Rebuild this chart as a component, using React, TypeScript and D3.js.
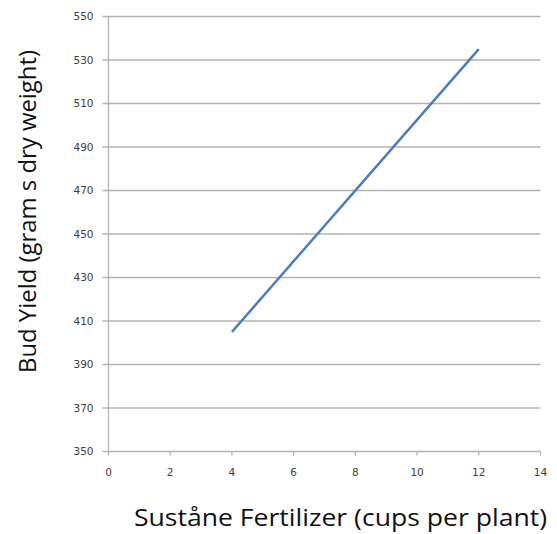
import React, { useEffect, useRef } from "react";
import * as d3 from "d3";

const fertilizerCups = [4, 12];
const budYield = [405, 535];
const xTicks = [0, 2, 4, 6, 8, 10, 12, 14];
const yTicks = [350, 370, 390, 410, 430, 450, 470, 490, 510, 530, 550];
const xTitle = "Suståne Fertilizer (cups per plant)";
const yTitle = "Bud Yield (gram s dry weight)";

export default function App() {
  const ref = useRef<SVGSVGElement>(null);

  useEffect(() => {
    const svg = d3.select(ref.current);
    svg.selectAll("*").remove();

    const width = 557;
    const height = 534;
    const margin = { top: 16.5, left: 108.5 };
    const w = 540.5 - margin.left;
    const h = 451.5 - margin.top;

    svg.append("rect").attr("width", width).attr("height", height).attr("fill", "#fff");

    const g = svg.append("g").attr("transform", `translate(${margin.left},${margin.top})`);

    const x = d3.scaleLinear().domain([0, 14]).range([0, w]);
    const y = d3.scaleLinear().domain([350, 550]).range([h, 0]);

    // horizontal gridlines with left tick stubs
    g.append("g")
      .selectAll("line")
      .data(yTicks)
      .enter()
      .append("line")
      .attr("x1", -6)
      .attr("x2", w)
      .attr("y1", (d) => y(d))
      .attr("y2", (d) => y(d))
      .attr("stroke", "#b3b3b3")
      .attr("stroke-width", 1.3);

    // y axis line
    g.append("line")
      .attr("x1", 0)
      .attr("x2", 0)
      .attr("y1", 0)
      .attr("y2", h)
      .attr("stroke", "#b3b3b3")
      .attr("stroke-width", 1.3);

    // x tick marks
    g.append("g")
      .selectAll("line")
      .data(xTicks)
      .enter()
      .append("line")
      .attr("x1", (d) => x(d))
      .attr("x2", (d) => x(d))
      .attr("y1", h)
      .attr("y2", h + 4)
      .attr("stroke", "#b3b3b3")
      .attr("stroke-width", 1.3);

    const labelStyle = (sel: any) =>
      sel
        .attr("font-family", "DejaVu Sans, Verdana, sans-serif")
        .attr("font-size", 10.5)
        .attr("fill", "#404040");

    g.append("g")
      .selectAll("text")
      .data(yTicks)
      .enter()
      .append("text")
      .attr("x", -15)
      .attr("y", (d) => y(d))
      .attr("dy", "0.35em")
      .attr("text-anchor", "end")
      .text((d) => d)
      .call(labelStyle);

    g.append("g")
      .selectAll("text")
      .data(xTicks)
      .enter()
      .append("text")
      .attr("x", (d) => x(d))
      .attr("y", h + 21)
      .attr("dy", "0.35em")
      .attr("text-anchor", "middle")
      .text((d) => d)
      .call(labelStyle);

    // data line
    const line = d3
      .line<number>()
      .x((d, i) => x(fertilizerCups[i]))
      .y((d) => y(d));

    g.append("path")
      .datum(budYield)
      .attr("d", line)
      .attr("fill", "none")
      .attr("stroke", "#4a7ebb")
      .attr("stroke-width", 2.5);

    // axis titles
    svg
      .append("text")
      .attr("x", 134)
      .attr("y", 526)
      .attr("font-family", "Open Sans, sans-serif")
      .attr("font-size", 24)
      .attr("textLength", 413)
      .attr("lengthAdjust", "spacingAndGlyphs")
      .attr("fill", "#111")
      .text(xTitle);

    svg
      .append("text")
      .attr("transform", `translate(36,373) rotate(-90)`)
      .attr("font-family", "Open Sans, sans-serif")
      .attr("font-size", 24)
      .attr("textLength", 323)
      .attr("lengthAdjust", "spacingAndGlyphs")
      .attr("fill", "#111")
      .text(yTitle);
  }, []);

  return (
    <svg
      ref={ref}
      width={557}
      height={534}
      style={{ position: "absolute", left: 0, top: 0, display: "block" }}
    />
  );
}
